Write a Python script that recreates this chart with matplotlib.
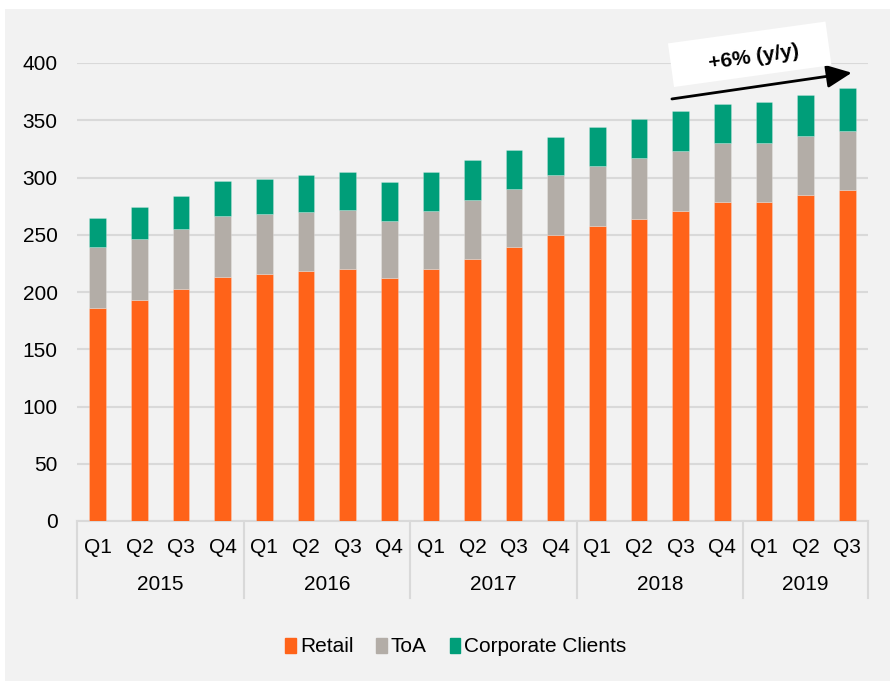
import matplotlib
matplotlib.use("Agg")
import matplotlib.pyplot as plt
import matplotlib.patches as mpatches
import matplotlib.transforms as mtransforms
import numpy as np

quarters = ["Q1", "Q2", "Q3", "Q4", "Q1", "Q2", "Q3", "Q4", "Q1", "Q2", "Q3", "Q4",
            "Q1", "Q2", "Q3", "Q4", "Q1", "Q2", "Q3"]
years = ["2015", "2016", "2017", "2018", "2019"]
quarters_per_year = [4, 4, 4, 4, 3]
retail = [186, 193, 203, 213, 216, 218, 220, 212, 220, 229, 239, 250, 258, 264, 271, 279, 279, 285, 289]
toa = [53, 53, 52, 53, 52, 52, 52, 50, 51, 51, 51, 52, 52, 53, 52, 51, 51, 51, 52]
corporate = [26, 28, 29, 31, 31, 32, 33, 34, 34, 35, 34, 33, 34, 34, 35, 34, 36, 36, 37]
series_names = ["Retail", "ToA", "Corporate Clients"]
annotation_text = "+6% (y/y)"

plt.rcParams['font.family'] = ['Liberation Sans', 'DejaVu Sans']

c_orange = "#FF6319"
c_gray = "#B3ADA7"
c_green = "#009E79"
grid_c = "#D9D9D9"
bg = "#F2F2F2"
FS = 15

W, H = 890, 681
fig = plt.figure(figsize=(W / 100, H / 100), dpi=100)
fig.patch.set_facecolor("white")
bgrect = mpatches.Rectangle((5 / W, 0), 1 - 5 / W, 1 - 9 / H, transform=fig.transFigure,
                            facecolor=bg, edgecolor="none", zorder=-10)
fig.patches.append(bgrect)

ax = fig.add_axes([77 / W, 1 - 521 / H, (868 - 77) / W, (521 - 63) / H])
ax.patch.set_alpha(0)

x = np.arange(len(quarters))
r = np.array(retail)
t = np.array(toa)
c = np.array(corporate)
bw = 0.4
ax.bar(x, r, bw, color=c_orange, label=series_names[0], zorder=3, edgecolor="#FFFFFF40", linewidth=0.6)
ax.bar(x, t, bw, bottom=r, color=c_gray, label=series_names[1], zorder=3, edgecolor="#FFFFFF40", linewidth=0.6)
ax.bar(x, c, bw, bottom=r + t, color=c_green, label=series_names[2], zorder=3, edgecolor="#FFFFFF40", linewidth=0.6)

ax.set_xlim(-0.5, len(quarters) - 0.5)
ax.set_ylim(0, 400)
ax.set_yticks(np.arange(0, 401, 50))
ax.yaxis.grid(True, color=grid_c, linewidth=1.5, zorder=0)
ax.set_axisbelow(True)
for s in ["top", "right", "left"]:
    ax.spines[s].set_visible(False)
ax.spines["bottom"].set_color(grid_c)
ax.spines["bottom"].set_linewidth(1.5)
ax.tick_params(axis="y", length=0, pad=14, labelsize=FS)
ax.set_xticks(x)
ax.set_xticklabels(quarters)
ax.tick_params(axis="x", length=0, pad=12, labelsize=FS)

# year group separators and labels
trans = mtransforms.blended_transform_factory(ax.transData, ax.transAxes)
sep_bottom = -(598 - 521) / (521 - 63)
year_y = -(584 - 521) / (521 - 63)
start = 0
bounds = [-0.5]
for yr, n in zip(years, quarters_per_year):
    end = start + n
    bounds.append(end - 0.5)
    ax.text((start + end - 1) / 2, year_y, yr, transform=trans, ha="center", va="center", fontsize=FS)
    start = end
for b in bounds:
    ax.plot([b, b], [0, sep_bottom], transform=trans, color=grid_c, lw=1.5, clip_on=False)

# legend
handles = [mpatches.Patch(color=col) for col in (c_orange, c_gray, c_green)]
fig.legend(handles, series_names, loc="center", bbox_to_anchor=(456 / W, 1 - 647 / H), ncol=3,
           frameon=False, fontsize=FS, handlelength=0.5, handleheight=0.7, handletextpad=0.2,
           columnspacing=1.1)

# annotation box + arrow
ident = mtransforms.IdentityTransform()
fig.patches.append(mpatches.Rectangle((674, H - 87), 159, 44, angle=7.9, transform=ident,
                                      facecolor="white", edgecolor="none", zorder=5))
fig.text(754 / W, 1 - 57 / H, annotation_text, rotation=7.9, ha="center", va="center",
         fontsize=15, fontweight="bold", zorder=6)
ax.annotate("", xy=(18.11, 391.5), xytext=(13.79, 368.6), xycoords="data",
            arrowprops=dict(arrowstyle="-|>,head_length=0.7,head_width=0.32", color="black", lw=2,
                            mutation_scale=22, shrinkA=0, shrinkB=0),
            annotation_clip=False, zorder=7)

fig.savefig("out.png", dpi=100, facecolor=fig.get_facecolor())
